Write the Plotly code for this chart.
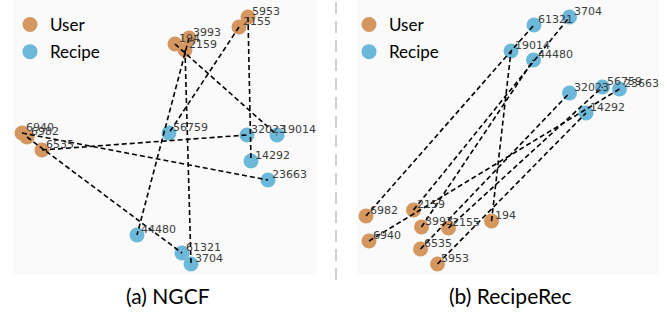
import plotly.graph_objects as go

# ---------------- data ----------------
user_ids = ["5953", "2155", "194", "3993", "2159", "6940", "6982", "6535"]
recipe_ids = ["56759", "32023", "19014", "14292", "23663", "44480", "61321", "3704"]

# (a) NGCF layout positions (panel units, y downward)
ngcf_user_x = [248, 239, 175, 189, 185, 22, 27, 42]
ngcf_user_y = [17, 27, 44, 38, 50, 133, 137, 150]
ngcf_recipe_x = [169, 247, 277, 251, 268, 137, 182, 191]
ngcf_recipe_y = [133, 135, 135, 161, 180, 235, 253, 264]

# (b) RecipeRec layout positions
rr_user_x = [104, 115, 158, 88, 80, 35.5, 32.5, 87]
rr_user_y = [264, 228, 221, 227, 210, 241, 216, 249]
rr_recipe_x = [269, 236, 177.5, 252.5, 286, 200, 200.5, 236]
rr_recipe_y = [87, 93, 51, 113, 89, 60, 25, 17]

# user -> recipe interactions
edge_user = ["2155", "6535", "194", "5953", "6940", "3993", "6982", "2159"]
edge_recipe = ["56759", "32023", "19014", "14292", "23663", "44480", "61321", "3704"]

panel_titles = ["(a) NGCF", "(b) RecipeRec"]

# ---------------- style ----------------
USER_C = "#D4975F"
RECIPE_C = "#6CB8D8"
LABEL_C = "#3c3c3c"

fig = go.Figure()

panels = [
    (ngcf_user_x, ngcf_user_y, ngcf_recipe_x, ngcf_recipe_y, "x", "y", "legend"),
    (rr_user_x, rr_user_y, rr_recipe_x, rr_recipe_y, "x2", "y2", "legend2"),
]

for ux, uy, rx, ry, xa, ya, lg in panels:
    upos = {k: (a, b) for k, a, b in zip(user_ids, ux, uy)}
    rpos = {k: (a, b) for k, a, b in zip(recipe_ids, rx, ry)}
    fig.add_trace(go.Scatter(x=ux, y=uy, mode="markers", name="User",
                             marker=dict(size=15, color=USER_C, line=dict(width=0)),
                             xaxis=xa, yaxis=ya, legend=lg, legendgroup="u",
                             hoverinfo="skip"))
    fig.add_trace(go.Scatter(x=rx, y=ry, mode="markers", name="Recipe",
                             marker=dict(size=15, color=RECIPE_C, line=dict(width=0)),
                             xaxis=xa, yaxis=ya, legend=lg, legendgroup="r",
                             hoverinfo="skip"))
    ex, ey = [], []
    for u, r in zip(edge_user, edge_recipe):
        ex += [upos[u][0], rpos[r][0], None]
        ey += [upos[u][1], rpos[r][1], None]
    fig.add_trace(go.Scatter(x=ex, y=ey, mode="lines", showlegend=False,
                             line=dict(color="black", width=1.6, dash="5px,3px"),
                             xaxis=xa, yaxis=ya, hoverinfo="skip"))
    for ids, xs, ys in [(user_ids, ux, uy), (recipe_ids, rx, ry)]:
        for t, a, b in zip(ids, xs, ys):
            fig.add_annotation(x=a, y=b, xref=xa, yref=ya, text=t, showarrow=False,
                               xanchor="left", yanchor="middle", xshift=2, yshift=6,
                               font=dict(family="DejaVu Sans", size=11, color=LABEL_C))

W, H = 667, 312
ax_common = dict(visible=False, showgrid=False, zeroline=False, fixedrange=True)
fig.update_layout(
    width=W, height=H,
    margin=dict(l=0, r=0, t=0, b=0),
    paper_bgcolor="white",
    plot_bgcolor="#fafafa",
    xaxis=dict(domain=[13 / W, 317 / W], range=[13, 317], **ax_common),
    yaxis=dict(domain=[1 - 275 / H, 1], range=[275, 0], **ax_common),
    xaxis2=dict(domain=[357 / W, 659 / W], range=[357 - 333.5, 659 - 333.5], **ax_common),
    yaxis2=dict(domain=[1 - 275 / H, 1], range=[275, 0], **ax_common),
    legend=dict(x=10 / W, y=1 - 7 / H, xanchor="left", yanchor="top",
                font=dict(family="Lato", size=17, color="black"),
                bgcolor="rgba(0,0,0,0)", tracegroupgap=2, itemsizing="trace"),
    legend2=dict(x=349 / W, y=1 - 7 / H, xanchor="left", yanchor="top",
                 font=dict(family="Lato", size=17, color="black"),
                 bgcolor="rgba(0,0,0,0)", tracegroupgap=2, itemsizing="trace"),
    shapes=[dict(type="line", xref="paper", yref="paper",
                 x0=336 / W, x1=336 / W, y0=1 - 280 / H, y1=1,
                 line=dict(color="#d0d0d0", width=2, dash="12px,7px"))],
    showlegend=True,
)

for i, t in enumerate(panel_titles):
    fig.add_annotation(x=[168 / W, 510 / W][i], y=1 - 295 / H, xref="paper", yref="paper",
                       text=t, showarrow=False, xanchor="center", yanchor="middle",
                       font=dict(family="Lato", size=21, color="black"))

fig.write_html("out.html",
               config={"displayModeBar": False, "staticPlot": True},
               post_script="document.body.style.margin='0';document.body.style.overflow='hidden';")
